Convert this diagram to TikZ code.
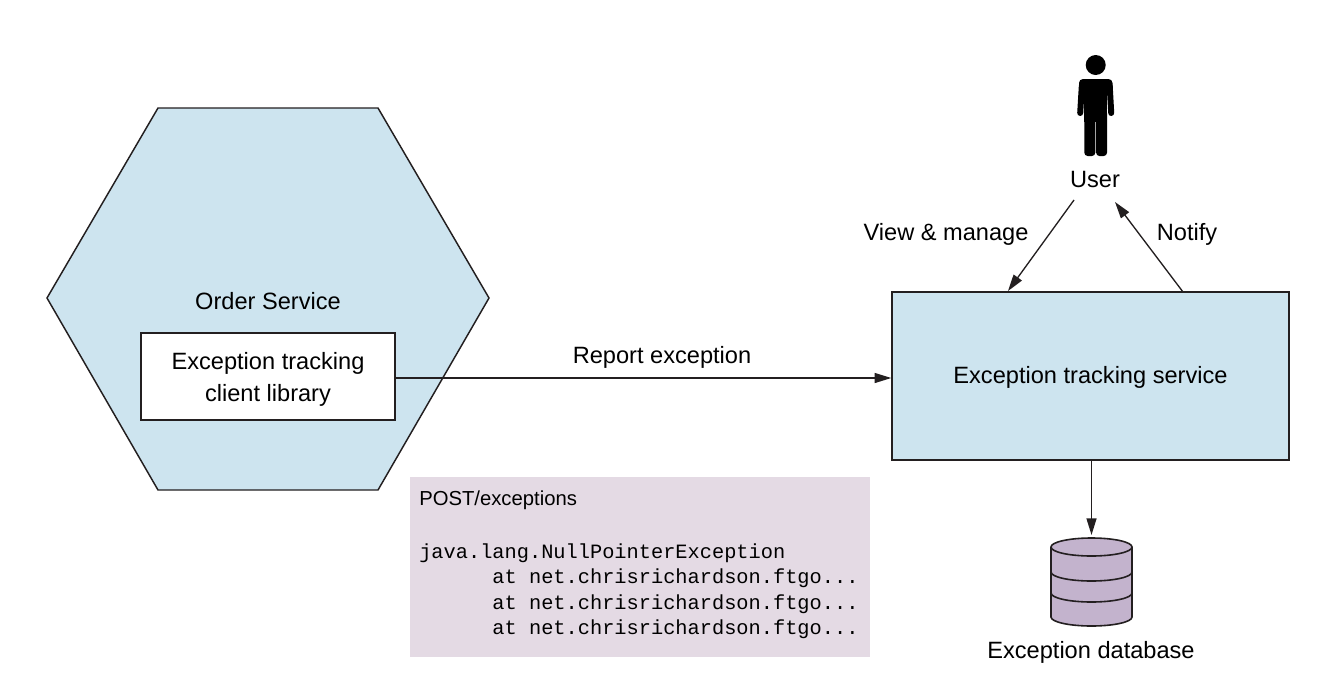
\documentclass[tikz,border=0pt]{standalone}
\usepackage{fontspec}
\setmainfont{Liberation Sans}
\setmonofont{Liberation Mono}
\usetikzlibrary{arrows.meta}
\definecolor{svcblue}{RGB}{205,228,239}
\definecolor{notepink}{RGB}{228,218,228}
\definecolor{dbpurple}{RGB}{195,179,205}
\definecolor{linegray}{RGB}{35,31,32}
\tikzset{
    label text/.style = {font = \fontsize{17.7}{21.5}\selectfont, text = black, inner sep = 0pt},
    box/.style = {draw = linegray, line width = 1.1pt, align = center, label text, inner sep = 0pt},
    conn/.style = {draw = linegray, line width = 1pt, ->},
    dbline/.style = {draw = linegray, line width = 1.2pt}
}

\begin{document}
\begin{tikzpicture}[x = 0.75pt, y = -0.75pt, > = {Stealth[length = 12.5pt, width = 7.5pt, inset = 0pt]}]
            \useasboundingbox (0, 0) rectangle (1330, 682);

            % hexagon
            \draw[fill = svcblue, draw = linegray, line width = 1.1pt] (158, 108) -- (378, 108) -- (489, 298) -- (378, 490) -- (158, 490) -- (47, 298) -- cycle;
            \node[label text] (order) at (268, 301) {Order Service};
            \node[box, fill = white, minimum width = 190.5pt, minimum height = 65.25pt] (lib) at (268, 376.5) {\rule{0pt}{17.3pt}Exception tracking\\[2.5pt]client library};

            % service
            \node[box, fill = svcblue, minimum width = 297.75pt, minimum height = 126pt] (svc) at (1090.5, 376) {\rule{0pt}{15pt}Exception tracking service};
            \node[label text] (report) at (662, 357.5) {Report exception};
            \draw[conn] (lib.east) ++(0, 1.5) -- (svc.west |- 0, 378);

            % user
            \fill[black] (1095.7, 65) circle (10);
            \fill[black, rounded corners = 3pt] (1079, 79) rectangle (1112.5, 94);
            \fill[black] (1084.3, 84) rectangle (1107, 122);
            \fill[black, rounded corners = 2.5pt] (1084.3, 110) rectangle (1095.3, 156);
            \fill[black, rounded corners = 2.5pt] (1096.1, 110) rectangle (1107, 156);
            \draw[black, line width = 4.5pt, line cap = round] (1081.8, 86) -- (1080.2, 113);
            \draw[black, line width = 4.5pt, line cap = round] (1109.7, 86) -- (1111.2, 113);
            \node[label text] (user) at (1095, 179) {User};
            \coordinate (userout) at (1074, 200);
            \coordinate (userin) at (1115, 202);
            \coordinate (svcin) at (1008, 291);
            \coordinate (svcout) at (1183, 292);
            \draw[conn] (userout) -- (svcin);
            \draw[conn] (svcout) -- (userin);
            \node[label text] (view) at (946, 234.5) {View \& manage};
            \node[label text] (notify) at (1187, 234) {Notify};

            % database
            \draw[fill = dbpurple, dbline] (1051, 547) -- (1051, 617) arc (180:0:40.5 and 9) -- (1132, 547) arc (0:-180:40.5 and 9) -- cycle;
            \draw[dbline] (1051, 547) arc (180:0:40.5 and 9);
            \draw[dbline] (1051, 572) arc (180:0:40.5 and 9);
            \draw[dbline] (1051, 593) arc (180:0:40.5 and 9);
            \coordinate (dbtop) at (1091.5, 535);
            \draw[conn] (svc.south -| dbtop) -- (dbtop);
            \node[label text] (dbname) at (1091, 652.5) {Exception database};

            % request
            \node[fill = notepink, minimum width = 345pt, minimum height = 135pt, inner sep = 0pt] (note) at (640, 567) {};
            \node[anchor = north west, inner sep = 0pt, align = left, font = \fontsize{15.25}{19.1}\selectfont\ttfamily] (trace) at (419, 491) {{\rmfamily\fontsize{15.2}{19.1}\selectfont POST/exceptions}\\[20pt]java.lang.NullPointerException\\
\hspace*{54.9pt}at net.chrisrichardson.ftgo...\\
\hspace*{54.9pt}at net.chrisrichardson.ftgo...\\
\hspace*{54.9pt}at net.chrisrichardson.ftgo...};

        \end{tikzpicture}
\end{document}
